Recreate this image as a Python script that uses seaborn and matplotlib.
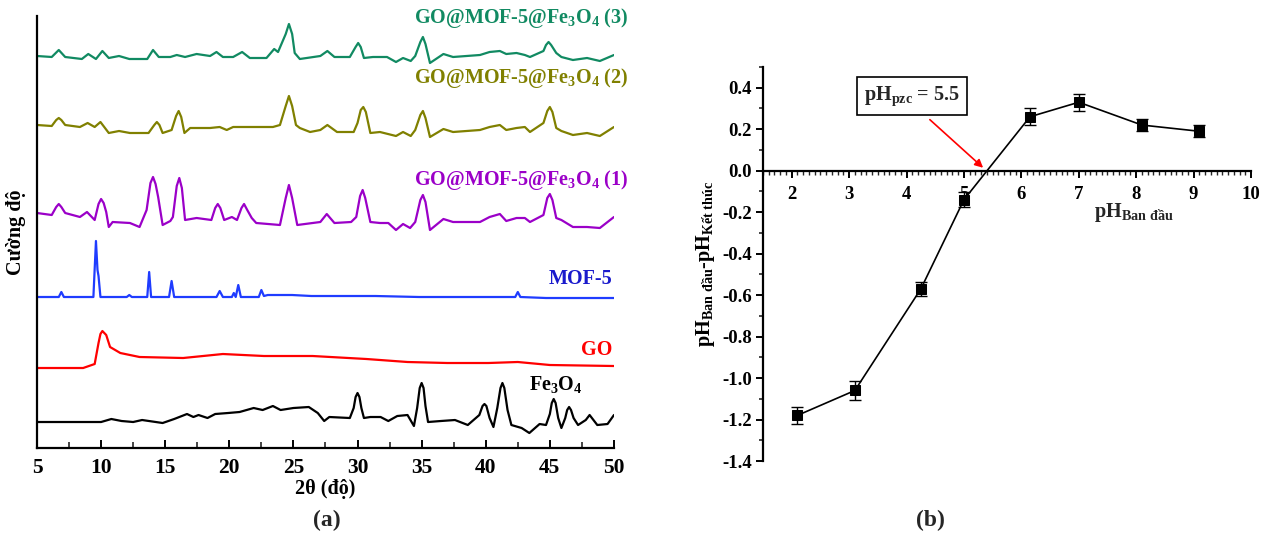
import numpy as np
import pandas as pd
import matplotlib
matplotlib.use("Agg")
import matplotlib.pyplot as plt
from matplotlib.ticker import MultipleLocator, FormatStrFormatter
import seaborn as sns

# ---- (a) XRD patterns, stacked intensity (a.u.) ----
fe_x = [5, 10.0, 10.8, 11.6, 12.5, 13.2, 14.8, 15.7, 16.7, 17.2, 17.6, 18.3, 18.9, 19.9,
        20.8, 21.9, 22.6, 23.4, 24.0, 25.0, 26.2, 26.9, 27.4, 27.8, 29.4, 29.7, 29.85,
        30.0, 30.15, 30.3, 30.5, 31.0, 31.8, 32.4, 33.1, 33.9, 34.4, 34.65, 34.85, 35.0,
        35.15, 35.3, 35.5, 36.5, 37.6, 38.6, 39.5, 39.75, 39.9, 40.05, 40.3, 40.6, 40.9,
        41.15, 41.3, 41.45, 41.7, 42.0, 42.8, 43.4, 44.2, 44.7, 45.0, 45.15, 45.3, 45.45,
        45.65, 45.9, 46.2, 46.35, 46.5, 46.65, 46.85, 47.2, 47.8, 48.1, 48.4, 48.7, 49.5, 50]
fe_y = [26, 26, 29, 27, 26, 28, 25, 29, 34, 31, 33, 30, 34, 35,
        36, 40, 38, 42, 38, 40, 41, 35, 27, 31, 30, 40, 51,
        55, 51, 40, 30, 31, 31, 27, 32, 33, 22, 40, 60, 65,
        60, 42, 26, 27, 28, 23, 33, 42, 44, 42, 30, 21, 40,
        60, 65, 60, 38, 23, 20, 15, 24, 23, 34, 45, 49, 45,
        30, 20, 30, 38, 41, 38, 30, 23, 28, 33, 28, 23, 24, 33]

go_x = [5, 8.6, 9.5, 9.8, 9.95, 10.1, 10.4, 10.7, 11.5, 13.0, 16.4, 19.5, 22.7, 26.5,
        30.7, 33.9, 37.0, 40.2, 42.5, 45.0, 50]
go_y = [80, 80, 84, 105, 114, 117, 113, 101, 95, 91, 90, 94, 92, 92,
        89, 86, 85, 85, 86, 83, 82]

mof_x = [5, 6.7, 6.9, 7.1, 9.4, 9.6, 9.72, 9.8, 9.95, 12.0, 12.2, 12.4, 13.6, 13.75,
         13.9, 15.3, 15.5, 15.7, 19.0, 19.25, 19.5, 20.2, 20.35, 20.5, 20.7, 20.9, 22.3,
         22.5, 22.7, 23.0, 24.5, 24.9, 26.4, 29.8, 31.4, 34.8, 42.3, 42.5, 42.7, 44.7, 50]
mof_y = [151, 151, 156, 151, 151, 207, 178, 172, 151, 151, 153, 151, 151, 176,
         151, 151, 167, 151, 151, 157, 151, 151, 155, 151, 163, 151, 151,
         158, 152, 153, 153, 153, 152, 152, 152, 151, 151, 156, 151, 150, 150]

c1_x = [5, 6.15, 6.5, 6.7, 6.9, 7.2, 8.35, 8.9, 9.5, 9.8, 10.0, 10.2, 10.4, 10.6, 10.9,
        12.25, 13.0, 13.55, 13.85, 14.05, 14.25, 14.45, 14.8, 15.4, 15.6, 15.9, 16.1, 16.3,
        16.55, 17.45, 18.6, 18.9, 19.1, 19.3, 19.6, 20.2, 20.6, 20.95, 21.15, 21.4, 21.75,
        22.1, 23.95, 24.4, 24.65, 24.9, 25.3, 27.1, 27.6, 28.2, 29.5, 29.9, 30.2, 30.4,
        30.6, 31.0, 31.75, 32.4, 33.0, 33.55, 34.1, 34.5, 34.9, 35.1, 35.3, 35.65, 36.7,
        37.45, 39.55, 40.3, 41.1, 41.6, 42.4, 43.05, 43.45, 44.5, 44.8, 45.0, 45.2, 45.5,
        45.9, 46.8, 47.9, 48.9, 50]
c1_y = [235, 233, 241, 244, 241, 235, 231, 236, 228, 244, 249, 245, 236, 221, 226,
        225, 221, 238, 265, 271, 264, 251, 223, 227, 231, 262, 270, 260,
        228, 230, 228, 240, 244, 240, 228, 231, 228, 240, 244, 238, 230,
        225, 223, 250, 263, 250, 223, 226, 234, 225, 226, 231, 252, 258,
        250, 226, 225, 225, 218, 224, 220, 226, 248, 253, 246, 218, 229,
        226, 226, 231, 234, 227, 230, 230, 226, 233, 250, 254, 248, 230,
        228, 221, 221, 220, 231]

c2_x = [5, 6.15, 6.5, 6.7, 6.9, 7.2, 8.35, 8.95, 9.5, 9.95, 10.6, 11.4, 12.25, 13.7,
        14.15, 14.35, 14.55, 14.8, 15.5, 15.85, 16.05, 16.25, 16.5, 16.95, 18.5, 19.25,
        19.8, 20.3, 21.9, 23.4, 23.95, 24.4, 24.65, 24.9, 25.2, 25.5, 26.3, 27.1, 27.65,
        28.4, 29.7, 30.0, 30.25, 30.45, 30.65, 31.0, 31.75, 33.0, 33.55, 34.15, 34.5,
        34.9, 35.1, 35.3, 35.65, 36.7, 37.45, 39.55, 40.3, 41.1, 41.6, 42.4, 43.05, 43.45,
        44.5, 44.8, 45.0, 45.2, 45.5, 45.9, 46.8, 47.9, 48.9, 50]
c2_y = [323, 322, 328, 330, 328, 323, 321, 325, 321, 326, 315, 317, 315, 315,
        323, 326, 323, 315, 318, 332, 337, 331, 315, 320, 320, 321,
        318, 321, 321, 321, 323, 342, 352, 342, 323, 320, 316, 318, 323,
        316, 316, 325, 338, 341, 336, 315, 316, 312, 316, 312, 318,
        333, 337, 330, 311, 319, 316, 318, 321, 323, 318, 320, 321, 316,
        325, 337, 341, 336, 320, 317, 313, 315, 312, 321]

c3_x = [5, 6.15, 6.7, 7.2, 8.5, 9.0, 9.6, 10.1, 10.6, 11.4, 12.2, 13.6, 14.05, 14.5,
        15.4, 15.9, 16.55, 17.45, 18.5, 19.0, 19.5, 20.3, 21.0, 21.6, 22.9, 23.5, 23.8,
        24.4, 24.65, 24.9, 25.1, 25.5, 27.1, 27.65, 28.2, 29.4, 29.85, 30.05, 30.25, 30.5,
        31.2, 32.3, 33.0, 33.55, 34.15, 34.5, 34.9, 35.1, 35.3, 35.65, 36.7, 37.45, 39.55,
        40.3, 41.1, 41.6, 42.4, 43.05, 43.45, 44.5, 44.7, 44.9, 45.1, 45.5, 45.9, 46.8,
        47.9, 48.9, 50]
c3_y = [392, 391, 398, 391, 389, 394, 389, 397, 390, 392, 389, 389, 398, 391,
        391, 393, 391, 394, 392, 396, 391, 391, 396, 390, 390, 399, 396,
        414, 424, 414, 395, 389, 392, 397, 391, 391, 401, 405, 401, 390,
        391, 391, 386, 390, 387, 392, 406, 411, 404, 385, 394, 391, 393,
        396, 397, 394, 395, 393, 391, 397, 403, 406, 403, 395, 391, 388,
        390, 387, 393]

samples = ["Fe3O4", "GO", "MOF-5", "C1", "C2", "C3"]
sample_x = [fe_x, go_x, mof_x, c1_x, c2_x, c3_x]
sample_y = [fe_y, go_y, mof_y, c1_y, c2_y, c3_y]
line_colors = ["#000000", "#ff0000", "#1f3cff", "#9b00c8", "#808000", "#118a62"]

# ---- (b) pH drift ----
ph_init = [2.1, 3.1, 4.25, 5.0, 6.15, 7.0, 8.1, 9.1]
ph_diff = [-1.18, -1.06, -0.57, -0.14, 0.26, 0.33, 0.22, 0.19]
ph_err = [0.04, 0.045, 0.035, 0.035, 0.04, 0.04, 0.03, 0.03]

sns.set_theme(style="ticks")
plt.rcParams["font.family"] = ["Liberation Serif", "DejaVu Serif"]
plt.rcParams["font.weight"] = "bold"
plt.rcParams["mathtext.fontset"] = "custom"
plt.rcParams["mathtext.rm"] = "Liberation Serif:bold"
plt.rcParams["mathtext.it"] = "Liberation Serif:bold"
plt.rcParams["mathtext.bf"] = "Liberation Serif:bold"
plt.rcParams["axes.unicode_minus"] = False

fig = plt.figure(figsize=(12.62, 5.35), dpi=100)
ax1 = fig.add_axes([0.0293, 0.1626, 0.4572, 0.8075])
ax2 = fig.add_axes([0.6046, 0.1383, 0.3867, 0.7365])

# ---------- panel (a) ----------
rows = []
for name, xs, ys in zip(samples, sample_x, sample_y):
    for xv, yv in zip(xs, ys):
        rows.append((name, xv, yv))
xrd = pd.DataFrame(rows, columns=["sample", "two_theta", "intensity"])

sns.lineplot(data=xrd, x="two_theta", y="intensity", hue="sample",
             palette=dict(zip(samples, line_colors)), estimator=None, sort=False,
             linewidth=1.6, legend=False, solid_joinstyle="round", ax=ax1)

ax1.set_xlim(5, 50)
ax1.set_ylim(0, 432)
for s in ["top", "right"]:
    ax1.spines[s].set_visible(False)
for s in ["left", "bottom"]:
    ax1.spines[s].set_linewidth(1.6)
    ax1.spines[s].set_color("black")
ax1.set_yticks([])
ax1.xaxis.set_major_locator(MultipleLocator(5))
ax1.xaxis.set_minor_locator(MultipleLocator(2.5))
ax1.tick_params(axis="x", which="major", direction="in", length=6, width=1.4,
                labelsize=15.5, pad=7, colors="black")
ax1.tick_params(axis="x", which="minor", direction="in", length=4, width=1.2)
for lab in ax1.get_xticklabels():
    lab.set_fontweight("bold")
ax1.set_xlabel("2θ (độ)", fontsize=14.5, fontweight="bold", labelpad=1, color="black")
ax1.set_ylabel("Cường độ", fontsize=14.5, fontweight="bold", labelpad=8, color="black")

lab_kw = dict(fontsize=14.5, fontweight="bold", ha="right", va="center", clip_on=False)
ax1.text(51.1, 430, "GO@MOF-5@Fe$_3$O$_4$ (3)", color="#118a62", **lab_kw)
ax1.text(51.1, 370, "GO@MOF-5@Fe$_3$O$_4$ (2)", color="#808000", **lab_kw)
ax1.text(51.1, 268, "GO@MOF-5@Fe$_3$O$_4$ (1)", color="#9b00c8", **lab_kw)
ax1.text(49.9, 169, "MOF-5", color="#1a1acc", **lab_kw)
ax1.text(49.9, 98, "GO", color="#ff0000", **lab_kw)
ax1.text(45.5, 64, "Fe$_3$O$_4$", color="black", fontsize=14.5, fontweight="bold",
         ha="center", va="center")

# ---------- panel (b) ----------
sns.lineplot(x=ph_init, y=ph_diff, color="black", linewidth=1.2, marker="s",
             markersize=7.5, markeredgecolor="black", ax=ax2)
ax2.errorbar(ph_init, ph_diff, yerr=ph_err, fmt="none", ecolor="black",
             elinewidth=1, capsize=4, capthick=1)

ax2.set_xlim(1.5, 10)
ax2.set_ylim(-1.4, 0.5)
ax2.spines["top"].set_visible(False)
ax2.spines["right"].set_visible(False)
ax2.spines["bottom"].set_position(("data", 0))
for s in ["left", "bottom"]:
    ax2.spines[s].set_linewidth(1.6)
    ax2.spines[s].set_color("black")
ax2.xaxis.set_major_locator(MultipleLocator(1))
ax2.xaxis.set_minor_locator(MultipleLocator(0.1))
ax2.yaxis.set_major_locator(MultipleLocator(0.2))
ax2.yaxis.set_minor_locator(MultipleLocator(0.1))
ax2.yaxis.set_major_formatter(FormatStrFormatter("%.1f"))
ax2.set_xticks([2, 3, 4, 5, 6, 7, 8, 9, 10])
ax2.tick_params(axis="x", which="major", direction="out", length=5, width=1.4,
                labelsize=13.5, pad=6, colors="black")
ax2.tick_params(axis="x", which="minor", direction="out", length=3, width=1.0)
ax2.tick_params(axis="y", which="major", direction="out", length=5, width=1.4,
                labelsize=13.5, pad=3, colors="black")
ax2.tick_params(axis="y", which="minor", direction="out", length=3, width=1.2)
for lab in ax2.get_xticklabels() + ax2.get_yticklabels():
    lab.set_fontweight("bold")

ax2.set_ylabel("pH$_{\\mathregular{Ban\\ đầu}}$-pH$_{\\mathregular{Kết\\ thúc}}$",
               fontsize=14.5, fontweight="bold", labelpad=4, color="black")
ax2.text(7.95, -0.2, "pH$_{\\mathregular{Ban\\ đầu}}$", fontsize=14.5, fontweight="bold",
         ha="center", va="center")

ax2.annotate("", xy=(5.37, 0.005), xytext=(4.37, 0.255),
             arrowprops=dict(arrowstyle="-|>", color="red", lw=1.2,
                             mutation_scale=12))
ax2.text(4.1, 0.36, "pH$_{\\mathregular{pzc}}$ = 5.5", fontsize=14.5, fontweight="bold",
         ha="center", va="center",
         bbox=dict(boxstyle="square,pad=0.35", facecolor="white", edgecolor="black",
                   linewidth=1.2))

fig.text(0.259, 0.028, "(a)", fontsize=17, fontweight="bold", ha="center", va="center")
fig.text(0.737, 0.028, "(b)", fontsize=17, fontweight="bold", ha="center", va="center")

fig.savefig("out.png", dpi=100)
